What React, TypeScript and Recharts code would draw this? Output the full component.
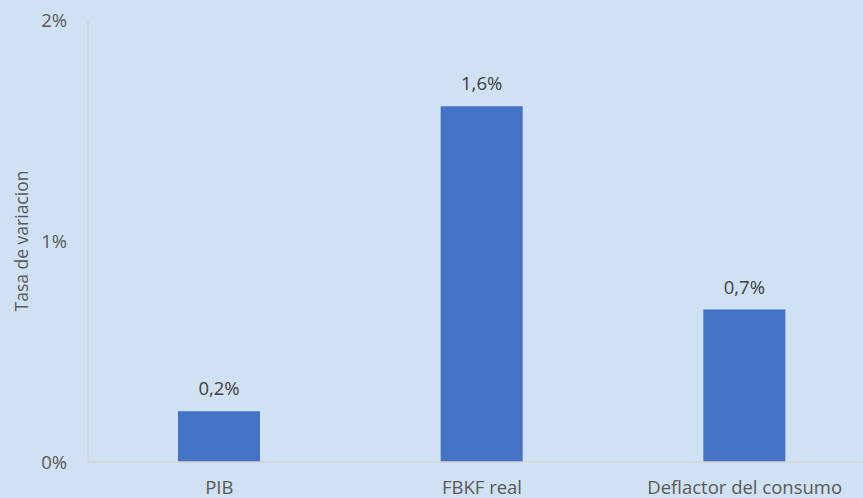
import React from "react";
import { BarChart, Bar, XAxis, YAxis, LabelList } from "recharts";

const categories = ["PIB", "FBKF real", "Deflactor del consumo"];
const values = [0.23, 1.61, 0.69];
const yTicks = [0, 1, 2];
const yTitle = "Tasa de variacion";

const data = categories.map((c, i) => ({ name: c, value: values[i] }));

const FONT = "'Open Sans', sans-serif";
const TEXT = "#595959";

const fmt = (v: number) => v.toFixed(1).replace(".", ",") + "%";

const YTitle = (props: any) => {
  const vb = props.viewBox || {};
  const cy = (vb.y ?? 20) + (vb.height ?? 442) / 2;
  return (
    <text
      x={21}
      y={cy}
      transform={`rotate(-90, 21, ${cy})`}
      textAnchor="middle"
      dominantBaseline="central"
      fill={TEXT}
      fontSize={17.5}
      fontFamily={FONT}
    >
      {yTitle}
    </text>
  );
};

export default function App() {
  return (
    <div
      style={{
        position: "absolute",
        left: 0,
        top: 0,
        width: 863,
        height: 498,
        overflow: "hidden",
        background: "#CFE1F2",
      }}
    >
      <BarChart
        width={876}
        height={498}
        data={data}
        margin={{ top: 20, right: 0, bottom: 0, left: 0 }}
        barSize={82}
      >
        <XAxis
          dataKey="name"
          axisLine={{ stroke: "#D5D5D5", strokeWidth: 1.5 }}
          tickLine={false}
          tick={{ fill: TEXT, fontSize: 18.5, fontFamily: FONT }}
          tickMargin={13}
          height={36}
          interval={0}
        />
        <YAxis
          domain={[0, 2]}
          ticks={yTicks}
          width={88}
          axisLine={{ stroke: "#D5D5D5", strokeWidth: 1.5 }}
          tickLine={false}
          tickFormatter={(v: number) => `${v}%`}
          tick={{ fill: TEXT, fontSize: 18.5, fontFamily: FONT }}
          tickMargin={15}
          label={<YTitle />}
        />
        <Bar dataKey="value" fill="#4472C4" isAnimationActive={false}>
          <LabelList
            dataKey="value"
            position="top"
            offset={16}
            formatter={(v: number) => fmt(v)}
            style={{ fill: "#404040", fontSize: 18.5, fontFamily: FONT }}
          />
        </Bar>
      </BarChart>
    </div>
  );
}
